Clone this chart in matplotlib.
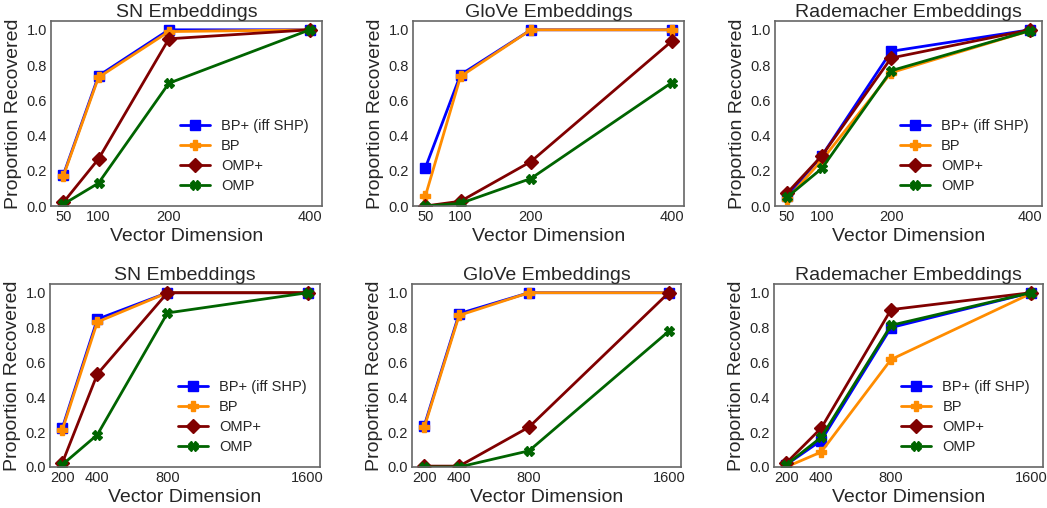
import numpy as np
import matplotlib
matplotlib.use("Agg")
import matplotlib.pyplot as plt

plt.style.use("seaborn-v0_8-white")
plt.rcParams['font.family'] = ['Liberation Sans', 'DejaVu Sans']

dims_top = [50, 100, 200, 400]
dims_bot = [200, 400, 800, 1600]

methods = ['BP+ (iff SHP)', 'BP', 'OMP+', 'OMP']
colors = ['#0000ff', '#ff8c00', '#800000', '#006400']
markers = ['s', 'P', 'D', 'X']

# top row
sn_top = [
    [0.176, 0.739, 1.0, 1.0],
    [0.17, 0.73, 0.99, 1.0],
    [0.02, 0.267, 0.949, 1.0],
    [0.01, 0.13, 0.697, 1.0],
]
glove_top = [
    [0.216, 0.745, 1.0, 1.0],
    [0.055, 0.735, 1.0, 1.0],
    [0.0, 0.027, 0.252, 0.935],
    [0.0, 0.015, 0.156, 0.70],
]
rad_top = [
    [0.057, 0.285, 0.878, 1.0],
    [0.04, 0.26, 0.757, 0.995],
    [0.074, 0.285, 0.84, 1.0],
    [0.05, 0.213, 0.768, 0.995],
]

# bottom row
sn_bot = [
    [0.223, 0.848, 1.0, 1.0],
    [0.213, 0.832, 1.0, 1.0],
    [0.023, 0.533, 1.0, 1.0],
    [0.013, 0.185, 0.884, 1.0],
]
glove_bot = [
    [0.236, 0.88, 1.0, 1.0],
    [0.227, 0.87, 1.0, 1.0],
    [0.005, 0.005, 0.229, 1.0],
    [0.0, 0.0, 0.093, 0.779],
]
rad_bot = [
    [0.013, 0.152, 0.80, 1.0],
    [0.0, 0.086, 0.617, 0.995],
    [0.023, 0.223, 0.903, 1.0],
    [0.013, 0.17, 0.813, 1.0],
]

titles = ['SN Embeddings', 'GloVe Embeddings', 'Rademacher Embeddings']

W, H = 1047, 508
fig = plt.figure(figsize=(W / 100, H / 100), dpi=100)

# axes boxes in pixels: left, top, right, bottom
boxes = [
    (51, 21, 322, 206), (413, 21, 684, 206), (775, 21, 1042, 206),
    (50, 284, 320, 467), (412, 284, 681, 467), (774, 284, 1043, 467),
]
panels = [
    (dims_top, sn_top, True), (dims_top, glove_top, False), (dims_top, rad_top, True),
    (dims_bot, sn_bot, True), (dims_bot, glove_bot, False), (dims_bot, rad_bot, True),
]

for i, (box, (dims, data, leg)) in enumerate(zip(boxes, panels)):
    l, t, r, b = box
    ax = fig.add_axes([l / W, 1 - b / H, (r - l) / W, (b - t) / H])
    for vals, name, c, m in zip(data, methods, colors, markers):
        ax.plot(dims, vals, color=c, marker=m, markersize=7, lw=2, label=name)
    ax.set_xticks(dims)
    ax.set_xticklabels([str(d) for d in dims])
    ax.set_ylim(0, 1.05)
    ax.set_yticks([0.0, 0.2, 0.4, 0.6, 0.8, 1.0])
    ax.tick_params(labelsize=10.5, length=0, pad=3)
    ax.set_title(titles[i % 3], fontsize=14, pad=3)
    ax.set_xlabel('Vector Dimension', fontsize=14, labelpad=3)
    ax.set_ylabel('Proportion Recovered', fontsize=14, labelpad=3)
    for s in ax.spines.values():
        s.set_color('0.4')
        s.set_linewidth(1.2)
    if leg:
        ax.legend(loc='lower right', fontsize=10.5, frameon=False, labelspacing=0.4)

fig.savefig('out.png', dpi=100)
